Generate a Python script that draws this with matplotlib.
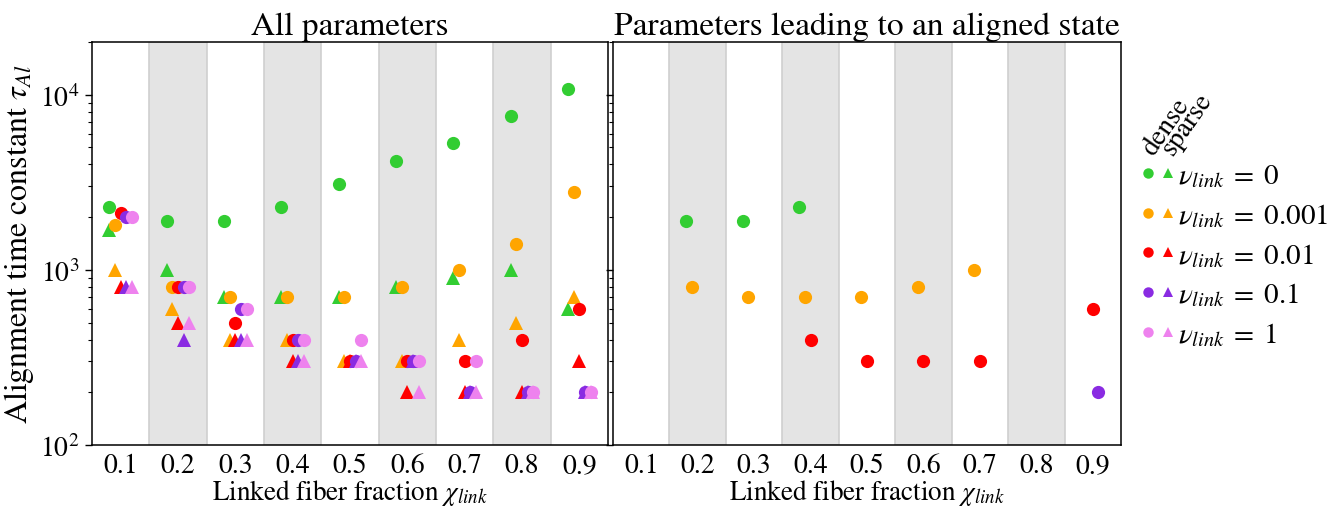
import matplotlib
matplotlib.use("Agg")
import matplotlib.pyplot as plt
from matplotlib.lines import Line2D
from matplotlib.legend_handler import HandlerTuple
import numpy as np

plt.rcParams['font.family'] = ['STIXGeneral', 'DejaVu Serif']
plt.rcParams['mathtext.fontset'] = 'stix'

# ---------------- data ----------------
chi = [0.1, 0.2, 0.3, 0.4, 0.5, 0.6, 0.7, 0.8, 0.9]
nu_labels = ['0', '0.001', '0.01', '0.1', '1']
colors = ['limegreen', 'orange', 'red', 'blueviolet', 'violet']

# dense networks (circles)
dense_nu0    = [2300, 1900, 1900, 2300, 3100, 4200, 5300, 7600, 10800]
dense_nu0001 = [1800, 800, 700, 700, 700, 800, 1000, 1400, 2800]
dense_nu001  = [2100, 800, 500, 400, 300, 300, 300, 400, 600]
dense_nu01   = [2000, 800, 600, 400, 300, 300, 200, 200, 200]
dense_nu1    = [2000, 800, 600, 400, 400, 300, 300, 200, 200]

# sparse networks (triangles)
sparse_nu0    = [1700, 1000, 700, 700, 700, 800, 900, 1000, 600]
sparse_nu0001 = [1000, 600, 400, 400, 300, 300, 400, 500, 700]
sparse_nu001  = [800, 500, 400, 300, 300, 200, 200, 200, 300]
sparse_nu01   = [800, 400, 400, 300, 300, 300, 200, 200, 200]
sparse_nu1    = [800, 500, 400, 300, 300, 200, 200, 200, 200]

# dense parameter sets that lead to an aligned state (1 = aligned)
aligned_nu0    = [0, 1, 1, 1, 0, 0, 0, 0, 0]
aligned_nu0001 = [0, 1, 1, 1, 1, 1, 1, 0, 0]
aligned_nu001  = [0, 0, 0, 1, 1, 1, 1, 0, 1]
aligned_nu01   = [0, 0, 0, 0, 0, 0, 0, 0, 1]
aligned_nu1    = [0, 0, 0, 0, 0, 0, 0, 0, 0]

dense = [dense_nu0, dense_nu0001, dense_nu001, dense_nu01, dense_nu1]
sparse = [sparse_nu0, sparse_nu0001, sparse_nu001, sparse_nu01, sparse_nu1]
aligned = [aligned_nu0, aligned_nu0001, aligned_nu001, aligned_nu01, aligned_nu1]

# ---------------- figure ----------------
fig = plt.figure(figsize=(13.43, 5.10), dpi=100)
ax1 = fig.add_axes([92/1343, 1-446/510, 516/1343, 403/510])
ax2 = fig.add_axes([613/1343, 1-446/510, 508/1343, 403/510], sharey=ax1)

chi_arr = np.array(chi)
ms = 9.5
for ax in (ax1, ax2):
    for c in chi[1::2]:
        ax.axvspan(c-0.05, c+0.05, facecolor='#e4e4e4', edgecolor='#cfcfcf', lw=1.2, zorder=0)
    ax.set_yscale('log')
    ax.set_xlim(0.05, 0.95)
    ax.set_ylim(100, 20000)
    ax.set_xticks(chi)
    ax.set_xticklabels([f'{c:.1f}' for c in chi])
    ax.tick_params(axis='x', length=0, pad=6, labelsize=20)
    ax.tick_params(axis='y', which='major', length=5, width=1, labelsize=20, pad=4)
    ax.tick_params(axis='y', which='minor', length=2.8, width=0.8)
    ax.set_xlabel(r'Linked fiber fraction $\chi_{link}$', fontsize=19.5, labelpad=-1)
    for s in ax.spines.values():
        s.set_linewidth(1.1)

for i in range(5):
    x = chi_arr + (i - 2) * 0.01
    ax1.plot(x, sparse[i], ls='none', marker='^', ms=ms, mew=0, color=colors[i], zorder=3)
    ax1.plot(x, dense[i], ls='none', marker='o', ms=ms, mew=0, color=colors[i], zorder=3)
    mask = np.array(aligned[i], dtype=bool)
    ax2.plot(x[mask], np.array(dense[i])[mask], ls='none', marker='o', ms=ms, mew=0,
             color=colors[i], zorder=3)

ax2.tick_params(axis='y', which='both', labelleft=False)
ax1.set_ylabel(r'Alignment time constant $\tau_{Al}$', fontsize=23, labelpad=3)
ax1.set_title('All parameters', fontsize=24, pad=6)
ax2.set_title('Parameters leading to an aligned state', fontsize=24, pad=6)

# ---------------- legend ----------------
handles = []
for i in range(5):
    h_d = Line2D([], [], ls='none', marker='o', ms=7.5, mew=0, color=colors[i])
    h_s = Line2D([], [], ls='none', marker='^', ms=7.5, mew=0, color=colors[i])
    handles.append((h_d, h_s))
labels = [r'$\nu_{link}\;=\;%s$' % n for n in nu_labels]
fig.legend(handles, labels, handler_map={tuple: HandlerTuple(ndivide=None, pad=0.41)},
           loc='upper left', bbox_to_anchor=(1144/1343, 1-163/510), frameon=False,
           fontsize=21, handlelength=0.96, handletextpad=0.2, labelspacing=0.41,
           borderaxespad=0, borderpad=0)
fig.text(1158/1343, 1-160/510, 'dense', rotation=55, fontsize=20,
         ha='left', va='bottom', rotation_mode='anchor')
fig.text(1178/1343, 1-160/510, 'sparse', rotation=55, fontsize=20,
         ha='left', va='bottom', rotation_mode='anchor')

fig.savefig('out.png', dpi=100)
